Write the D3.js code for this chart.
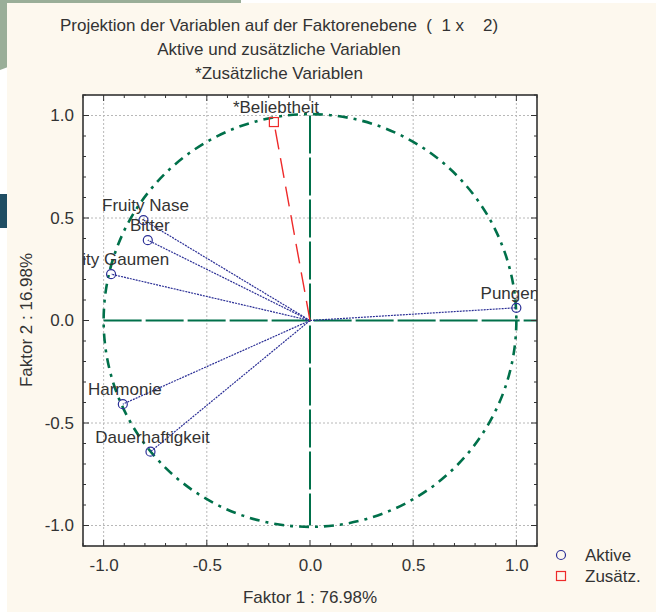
<!DOCTYPE html>
<html><head><meta charset="utf-8">
<script src="https://cdn.jsdelivr.net/npm/d3@7"></script>
<style>
html,body{margin:0;padding:0;background:#fff;}
svg{display:block;}
text{font-family:"Liberation Sans",Arial,sans-serif;fill:#333;}
</style></head>
<body>
<script>
// ---- data ----
const activeNames = ["Fruity Nase","Bitter","Fruity Gaumen","Harmonie","Dauerhaftigkeit","Pungency"];
const activeF1 = [-0.807,-0.786,-0.964,-0.907,-0.773,1.0];
const activeF2 = [0.490,0.392,0.226,-0.408,-0.640,0.062];
const suppNames = ["*Beliebtheit"];
const suppF1 = [-0.175];
const suppF2 = [0.968];
const majorTicks = [-1.0,-0.5,0.0,0.5,1.0];
const minorTicks = d3.range(-11,12).map(i=>i/10);
const titleLines = ["Projektion der Variablen auf der Faktorenebene  (  1 x    2)","Aktive und zusätzliche Variablen","*Zusätzliche Variablen"];
const xTitle = "Faktor 1 : 76.98%";
const yTitle = "Faktor 2 : 16.98%";
const legendLabels = ["Aktive","Zusätz."];

const W=656,H=614;
const FS="17px";
const svg=d3.select("body").append("svg").attr("width",W).attr("height",H);

// background decorations
svg.append("rect").attr("x",0).attr("y",0).attr("width",241).attr("height",4).attr("fill","#9aae98");
svg.append("path").attr("d","M0,0H8V67L0,70Z").attr("fill","#9aae98");
svg.append("rect").attr("x",0).attr("y",194).attr("width",8).attr("height",34).attr("fill","#1f4d62");
svg.append("rect").attr("x",7).attr("y",3).attr("width",W-7).attr("height",609).attr("fill","#fdf8ee");

const L=83,R=537,T=95,B=546;
const x=d3.scaleLinear().domain([-1.1,1.1]).range([L,R]);
const y=d3.scaleLinear().domain([-1.1,1.1]).range([B,T]);
const fmt=d=>d3.format(".1f")(d).replace("\u2212","-");

// titles
svg.selectAll("text.title").data(titleLines).join("text")
  .attr("class","title").attr("x",279).attr("y",(d,i)=>31+i*24)
  .attr("text-anchor","middle").style("font-size",FS).style("white-space","pre")
  .attr("xml:space","preserve").text(d=>d);

// plot bg
svg.append("rect").attr("x",L).attr("y",T).attr("width",R-L).attr("height",B-T).attr("fill","#fff");

svg.append("clipPath").attr("id","clip").append("rect").attr("x",L).attr("y",T).attr("width",R-L).attr("height",B-T);
const g=svg.append("g").attr("clip-path","url(#clip)");

// grid
const gridVals=majorTicks.filter(v=>v!==0);
g.selectAll("line.gx").data(gridVals).join("line").attr("x1",d=>x(d)).attr("x2",d=>x(d)).attr("y1",T).attr("y2",B)
  .attr("stroke","#b8b8b8").attr("stroke-width",1).attr("stroke-dasharray","2,2");
g.selectAll("line.gy").data(gridVals).join("line").attr("y1",d=>y(d)).attr("y2",d=>y(d)).attr("x1",L).attr("x2",R)
  .attr("stroke","#b8b8b8").attr("stroke-width",1).attr("stroke-dasharray","2,2");

const green="#00704a";
// unit circle
g.append("circle").attr("cx",x(0)).attr("cy",y(0)).attr("r",x(1)-x(0))
  .attr("fill","none").attr("stroke",green).attr("stroke-width",2.6).attr("stroke-dasharray","10,6,3,6");
// axis lines
g.append("line").attr("x1",x(-1)).attr("x2",x(1.1)).attr("y1",y(0)).attr("y2",y(0))
  .attr("stroke",green).attr("stroke-width",2).attr("stroke-dasharray","38,4");
g.append("line").attr("x1",x(0)).attr("x2",x(0)).attr("y1",y(1)).attr("y2",y(-1))
  .attr("stroke",green).attr("stroke-width",2).attr("stroke-dasharray","38,4");

const active=activeNames.map((n,i)=>({n,f1:activeF1[i],f2:activeF2[i]}));
const supp=suppNames.map((n,i)=>({n,f1:suppF1[i],f2:suppF2[i]}));

// vectors
g.selectAll("line.va").data(active).join("line")
  .attr("x1",x(0)).attr("y1",y(0)).attr("x2",d=>x(d.f1)).attr("y2",d=>y(d.f2))
  .attr("stroke","#2b2f96").attr("stroke-width",1.2).attr("stroke-dasharray","2,1");
g.selectAll("line.vs").data(supp).join("line")
  .attr("x1",x(0)).attr("y1",y(0)).attr("x2",d=>x(d.f1)).attr("y2",d=>y(d.f2))
  .attr("stroke","#ee2a2a").attr("stroke-width",1.4).attr("stroke-dasharray","20,9");

// markers
g.selectAll("circle.pa").data(active).join("circle")
  .attr("cx",d=>x(d.f1)).attr("cy",d=>y(d.f2)).attr("r",4.5)
  .attr("fill","none").attr("stroke","#2b2f96").attr("stroke-width",1.2);
g.selectAll("rect.ps").data(supp).join("rect")
  .attr("x",d=>x(d.f1)-4.5).attr("y",d=>y(d.f2)-4.5).attr("width",9).attr("height",9)
  .attr("fill","none").attr("stroke","#ee2a2a").attr("stroke-width",1.2);

// labels
g.selectAll("text.la").data(active.concat(supp)).join("text")
  .attr("x",d=>x(d.f1)+2).attr("y",d=>y(d.f2)-9)
  .attr("text-anchor","middle").style("font-size",FS).text(d=>d.n);

// ticks (inward on all sides)
const tk=svg.append("g").attr("stroke","#333").attr("stroke-width",1);
minorTicks.forEach(v=>{
  const major=majorTicks.some(m=>Math.abs(m-v)<1e-9);
  const len=major?6:3;
  tk.append("line").attr("x1",x(v)).attr("x2",x(v)).attr("y1",B).attr("y2",B-len);
  tk.append("line").attr("x1",x(v)).attr("x2",x(v)).attr("y1",T).attr("y2",T+len);
  tk.append("line").attr("y1",y(v)).attr("y2",y(v)).attr("x1",L).attr("x2",L+len);
  tk.append("line").attr("y1",y(v)).attr("y2",y(v)).attr("x1",R).attr("x2",R-len);
});
// border
svg.append("rect").attr("x",L).attr("y",T).attr("width",R-L).attr("height",B-T)
  .attr("fill","none").attr("stroke","#333").attr("stroke-width",1.6);

// tick labels via axes
const xa=svg.append("g").attr("transform",`translate(0,${B})`)
  .call(d3.axisBottom(x).tickValues(majorTicks).tickFormat(fmt).tickSize(0).tickPadding(13));
xa.select(".domain").remove();
xa.selectAll("text").style("font-size",FS).attr("fill","#333").style("font-family","Liberation Sans, Arial, sans-serif");
const ya=svg.append("g").attr("transform",`translate(${L},0)`)
  .call(d3.axisLeft(y).tickValues(majorTicks).tickFormat(fmt).tickSize(0).tickPadding(9));
ya.select(".domain").remove();
ya.selectAll("text").style("font-size",FS).attr("fill","#333").style("font-family","Liberation Sans, Arial, sans-serif");

// axis titles
svg.append("text").attr("x",310).attr("y",603).attr("text-anchor","middle").style("font-size",FS).text(xTitle);
svg.append("text").attr("transform","translate(32,320) rotate(-90)").attr("text-anchor","middle").style("font-size",FS).text(yTitle);

// legend
svg.append("circle").attr("cx",561).attr("cy",555).attr("r",4.5).attr("fill","none").attr("stroke","#2b2f96").attr("stroke-width",1.2);
svg.append("rect").attr("x",556.5).attr("y",571.5).attr("width",9).attr("height",9).attr("fill","none").attr("stroke","#ee2a2a").attr("stroke-width",1.2);
svg.selectAll("text.leg").data(legendLabels).join("text").attr("x",585).attr("y",(d,i)=>561+i*21)
  .style("font-size",FS).text(d=>d);
</script>
</body></html>
